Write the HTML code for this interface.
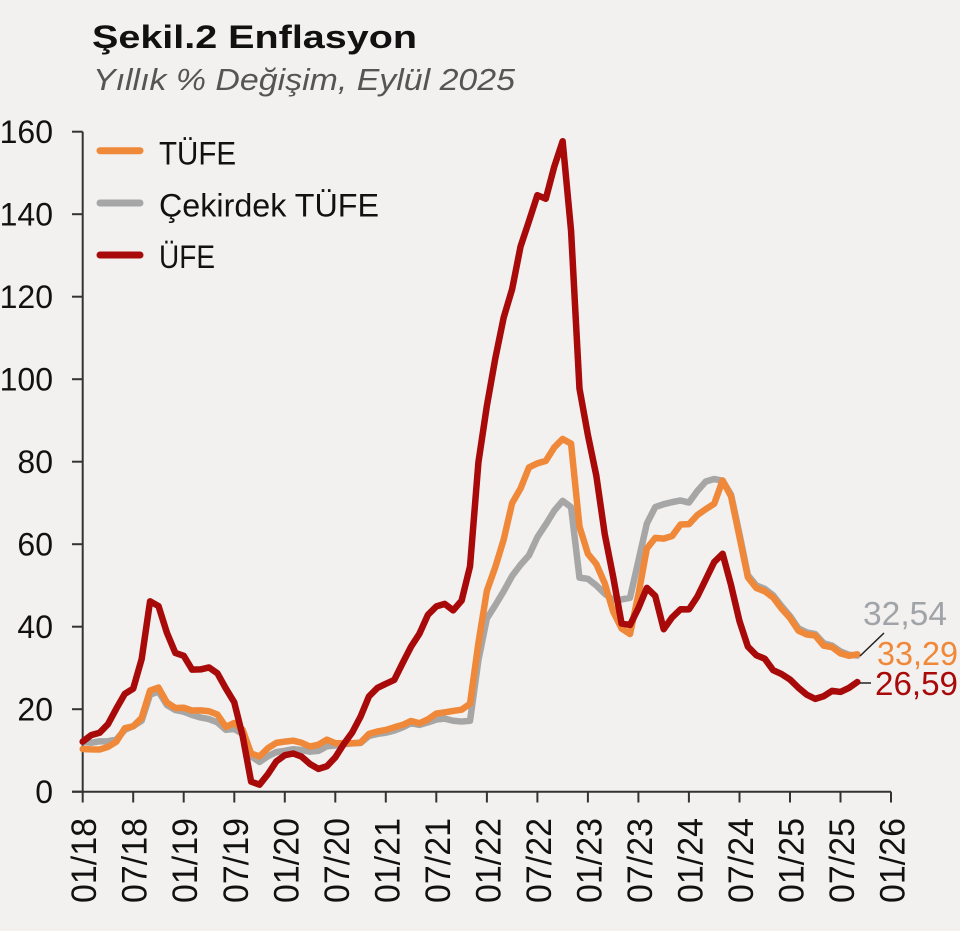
<!DOCTYPE html>
<html>
<head>
<meta charset="utf-8">
<style>
  html, body { margin:0; padding:0; background:#f2f1ef; }
  body { width:960px; height:931px; overflow:hidden; }
  svg { display:block; }
  text { font-family: "Liberation Sans", "DejaVu Sans", sans-serif; }
</style>
</head>
<body>
<svg width="960" height="931" viewBox="0 0 960 931" xmlns="http://www.w3.org/2000/svg">
  <rect x="0" y="0" width="960" height="931" fill="#f2f1ef"/>

  <!-- Title -->
  <text x="92" y="48" font-size="32" font-weight="bold" fill="#111" textLength="325" lengthAdjust="spacingAndGlyphs">Şekil.2 Enflasyon</text>
  <text x="93" y="90" font-size="31" font-style="italic" fill="#555" textLength="422" lengthAdjust="spacingAndGlyphs">Yıllık % Değişim, Eylül 2025</text>

  <!-- Axes -->
  <g stroke="#333" stroke-width="2" fill="none">
    <line x1="82.7" y1="131.7" x2="82.7" y2="792.7"/>
    <line x1="72" y1="791.7" x2="891" y2="791.7"/>
    <!-- y ticks -->
    <line x1="72" y1="791.7" x2="82.7" y2="791.7"/>
    <line x1="72" y1="709.2" x2="82.7" y2="709.2"/>
    <line x1="72" y1="626.7" x2="82.7" y2="626.7"/>
    <line x1="72" y1="544.2" x2="82.7" y2="544.2"/>
    <line x1="72" y1="461.7" x2="82.7" y2="461.7"/>
    <line x1="72" y1="379.2" x2="82.7" y2="379.2"/>
    <line x1="72" y1="296.7" x2="82.7" y2="296.7"/>
    <line x1="72" y1="214.2" x2="82.7" y2="214.2"/>
    <line x1="72" y1="131.7" x2="82.7" y2="131.7"/>
    <!-- x ticks -->
    <line x1="82.7" y1="791.7" x2="82.7" y2="802.5"/>
    <line x1="133.2" y1="791.7" x2="133.2" y2="802.5"/>
    <line x1="183.7" y1="791.7" x2="183.7" y2="802.5"/>
    <line x1="234.3" y1="791.7" x2="234.3" y2="802.5"/>
    <line x1="284.8" y1="791.7" x2="284.8" y2="802.5"/>
    <line x1="335.3" y1="791.7" x2="335.3" y2="802.5"/>
    <line x1="385.8" y1="791.7" x2="385.8" y2="802.5"/>
    <line x1="436.3" y1="791.7" x2="436.3" y2="802.5"/>
    <line x1="486.9" y1="791.7" x2="486.9" y2="802.5"/>
    <line x1="537.4" y1="791.7" x2="537.4" y2="802.5"/>
    <line x1="587.9" y1="791.7" x2="587.9" y2="802.5"/>
    <line x1="638.4" y1="791.7" x2="638.4" y2="802.5"/>
    <line x1="688.9" y1="791.7" x2="688.9" y2="802.5"/>
    <line x1="739.5" y1="791.7" x2="739.5" y2="802.5"/>
    <line x1="790.0" y1="791.7" x2="790.0" y2="802.5"/>
    <line x1="840.5" y1="791.7" x2="840.5" y2="802.5"/>
    <line x1="891.0" y1="791.7" x2="891.0" y2="802.5"/>
  </g>

  <!-- y labels -->
  <g font-size="32" fill="#111" text-anchor="end">
    <text x="53" y="803.2">0</text>
    <text x="53" y="720.7">20</text>
    <text x="53" y="638.2">40</text>
    <text x="53" y="555.7">60</text>
    <text x="53" y="473.2">80</text>
    <text x="53" y="390.7">100</text>
    <text x="53" y="308.2">120</text>
    <text x="53" y="225.7">140</text>
    <text x="53" y="143.2">160</text>
  </g>

  <!-- x labels -->
  <g font-size="35" fill="#111" text-anchor="end">
    <text transform="translate(96.2,818) rotate(-90)" textLength="85" lengthAdjust="spacingAndGlyphs">01/18</text>
    <text transform="translate(146.7,818) rotate(-90)" textLength="85" lengthAdjust="spacingAndGlyphs">07/18</text>
    <text transform="translate(197.2,818) rotate(-90)" textLength="85" lengthAdjust="spacingAndGlyphs">01/19</text>
    <text transform="translate(247.8,818) rotate(-90)" textLength="85" lengthAdjust="spacingAndGlyphs">07/19</text>
    <text transform="translate(298.3,818) rotate(-90)" textLength="85" lengthAdjust="spacingAndGlyphs">01/20</text>
    <text transform="translate(348.8,818) rotate(-90)" textLength="85" lengthAdjust="spacingAndGlyphs">07/20</text>
    <text transform="translate(399.3,818) rotate(-90)" textLength="85" lengthAdjust="spacingAndGlyphs">01/21</text>
    <text transform="translate(449.8,818) rotate(-90)" textLength="85" lengthAdjust="spacingAndGlyphs">07/21</text>
    <text transform="translate(500.4,818) rotate(-90)" textLength="85" lengthAdjust="spacingAndGlyphs">01/22</text>
    <text transform="translate(550.9,818) rotate(-90)" textLength="85" lengthAdjust="spacingAndGlyphs">07/22</text>
    <text transform="translate(601.4,818) rotate(-90)" textLength="85" lengthAdjust="spacingAndGlyphs">01/23</text>
    <text transform="translate(651.9,818) rotate(-90)" textLength="85" lengthAdjust="spacingAndGlyphs">07/23</text>
    <text transform="translate(702.4,818) rotate(-90)" textLength="85" lengthAdjust="spacingAndGlyphs">01/24</text>
    <text transform="translate(753.0,818) rotate(-90)" textLength="85" lengthAdjust="spacingAndGlyphs">07/24</text>
    <text transform="translate(803.5,818) rotate(-90)" textLength="85" lengthAdjust="spacingAndGlyphs">01/25</text>
    <text transform="translate(854.0,818) rotate(-90)" textLength="85" lengthAdjust="spacingAndGlyphs">07/25</text>
    <text transform="translate(904.5,818) rotate(-90)" textLength="85" lengthAdjust="spacingAndGlyphs">01/26</text>
  </g>

  <!-- Series: data coords (month index, value) -->
  <g transform="translate(82.7,791.7) scale(8.42,-4.125)" fill="none" stroke-linejoin="round" stroke-linecap="round">
    <!-- Çekirdek TÜFE -->
    <polyline vector-effect="non-scaling-stroke" stroke="#a6a6a6" stroke-width="6.5" points="
      0,12.06 1,11.86 2,12.21 3,12.24 4,12.64 5,15.0 6,15.9 7,17.2 8,23.5 9,24.3 10,21.0 11,19.8
      12,19.4 13,18.6 14,18.0 15,17.6 16,16.8 17,15.0 18,15.2 19,14.0 20,8.6 21,7.2 22,8.6 23,9.6
      24,9.9 25,10.3 26,10.1 27,9.7 28,9.9 29,11.0 30,11.2 31,11.5 32,11.7 33,11.8 34,13.5 35,14.0
      36,14.3 37,14.8 38,15.6 39,16.6 40,16.2 41,16.8 42,17.5 43,17.7 44,17.2 45,17.0 46,17.2 47,31.9
      48,42.0 49,45.2 50,48.6 51,52.3 52,55.0 53,57.3 54,61.7 55,64.8 56,68.1 57,70.5 58,69.0 59,51.9
      60,51.6 61,50.0 62,48.0 63,46.5 64,46.6 65,47.0 66,56.0 67,65.0 68,69.0 69,69.7 70,70.2 71,70.6
      72,70.1 73,72.9 74,75.2 75,75.8 76,75.4 77,72.0 78,62.5 79,52.5 80,50.0 81,49.2 82,47.6 83,45.0
      84,42.6 85,39.6 86,38.6 87,38.2 88,36.0 89,35.4 90,34.0 91,33.2 92,33.0"/>
    <!-- TÜFE -->
    <polyline vector-effect="non-scaling-stroke" stroke="#f0883a" stroke-width="6.5" points="
      0,10.35 1,10.26 2,10.23 3,10.85 4,12.15 5,15.39 6,15.85 7,17.90 8,24.52 9,25.24 10,21.62 11,20.30
      12,20.35 13,19.67 14,19.71 15,19.50 16,18.71 17,15.72 18,16.65 19,15.01 20,9.26 21,8.55 22,10.56 23,11.84
      24,12.15 25,12.37 26,11.86 27,10.94 28,11.39 29,12.62 30,11.76 31,11.77 32,11.75 33,11.89 34,14.03 35,14.60
      36,14.97 37,15.61 38,16.19 39,17.14 40,16.59 41,17.53 42,18.95 43,19.25 44,19.58 45,19.89 46,21.31 47,36.08
      48,48.69 49,54.44 50,61.14 51,69.97 52,73.50 53,78.62 54,79.60 55,80.21 56,83.45 57,85.51 58,84.39 59,64.27
      60,57.68 61,55.18 62,50.51 63,43.68 64,39.59 65,38.21 66,47.83 67,58.94 68,61.53 69,61.36 70,61.98 71,64.77
      72,64.86 73,67.07 74,68.50 75,69.80 76,75.45 77,71.60 78,61.78 79,51.97 80,49.38 81,48.58 82,47.09 83,44.38
      84,42.12 85,39.05 86,38.10 87,37.86 88,35.41 89,35.05 90,33.52 91,32.95 92,33.29"/>
    <!-- ÜFE -->
    <polyline vector-effect="non-scaling-stroke" stroke="#a80a0a" stroke-width="6.5" points="
      0,12.14 1,13.71 2,14.28 3,16.37 4,20.16 5,23.71 6,25.00 7,32.13 8,46.15 9,45.01 10,38.54 11,33.64
      12,32.93 13,29.59 14,29.64 15,30.12 16,28.71 17,25.04 18,21.66 19,13.45 20,2.45 21,1.70 22,4.26 23,7.36
      24,8.84 25,9.26 26,8.50 27,6.71 28,5.53 29,6.17 30,8.33 31,11.53 32,14.33 33,18.20 34,23.11 35,25.15
      36,26.16 37,27.09 38,31.20 39,35.17 40,38.33 41,42.89 42,44.92 43,45.52 44,43.96 45,46.31 46,54.62 47,79.89
      48,93.53 49,105.01 50,114.97 51,121.82 52,132.16 53,138.31 54,144.61 55,143.75 56,151.50 57,157.69 58,136.02 59,97.72
      60,86.46 61,76.61 62,62.45 63,52.11 64,40.76 65,40.42 66,44.50 67,49.41 68,47.44 69,39.39 70,42.25 71,44.22
      72,44.20 73,47.29 74,51.47 75,55.66 76,57.68 77,50.09 78,41.37 79,35.17 80,33.09 81,32.24 82,29.47 83,28.52
      84,27.20 85,25.21 86,23.50 87,22.50 88,23.13 89,24.45 90,24.19 91,25.16 92,26.59"/>
  </g>

  <!-- Legend -->
  <g stroke-width="7" stroke-linecap="round">
    <line x1="100" y1="150.7" x2="140" y2="150.7" stroke="#f0883a"/>
    <line x1="100" y1="203" x2="140" y2="203" stroke="#a6a6a6"/>
    <line x1="100" y1="255" x2="140" y2="255" stroke="#a80a0a"/>
  </g>
  <g font-size="32" fill="#111">
    <text x="159" y="164.3" textLength="77" lengthAdjust="spacingAndGlyphs">TÜFE</text>
    <text x="159" y="216.7" textLength="220" lengthAdjust="spacingAndGlyphs">Çekirdek TÜFE</text>
    <text x="159" y="268" textLength="56" lengthAdjust="spacingAndGlyphs">ÜFE</text>
  </g>

  <!-- End labels -->
  <line x1="884" y1="633" x2="860" y2="656" stroke="#222" stroke-width="1.5"/>
  <line x1="860" y1="683" x2="871" y2="683" stroke="#222" stroke-width="1.5"/>
  <text x="863" y="625" font-size="33" fill="#a0a3a8" textLength="84" lengthAdjust="spacingAndGlyphs">32,54</text>
  <text x="877" y="665" font-size="33" fill="#f0883a" textLength="81" lengthAdjust="spacingAndGlyphs">33,29</text>
  <text x="875" y="695" font-size="33" fill="#a80a0a" textLength="83" lengthAdjust="spacingAndGlyphs">26,59</text>
</svg>
</body>
</html>
